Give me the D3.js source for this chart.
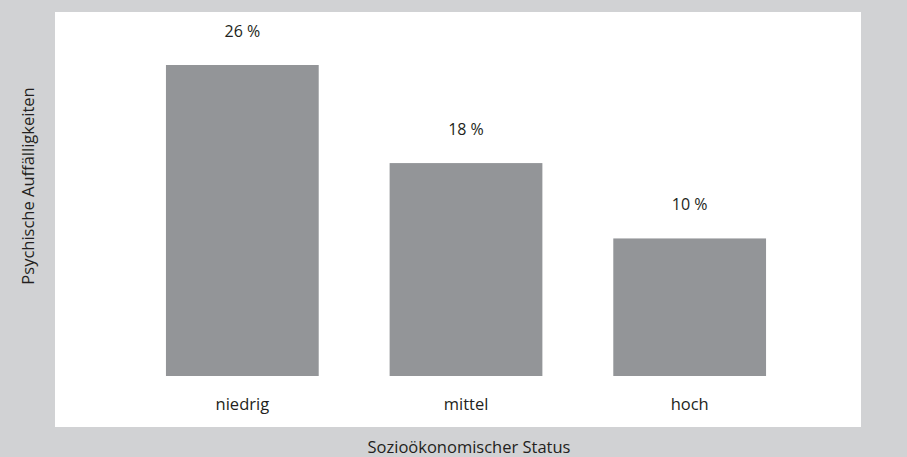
<!DOCTYPE html>
<html>
<head>
<meta charset="utf-8">
<script src="https://cdn.jsdelivr.net/npm/d3@7"></script>
<style>
  html, body { margin: 0; padding: 0; background: #d1d2d4; }
  svg { display: block; }
  text { font-family: "Open Sans", sans-serif; fill: #231f20; }
</style>
</head>
<body>
<svg id="chart" width="907" height="457"></svg>
<script>
// data
const categories = ["niedrig", "mittel", "hoch"];
const values = [26, 17.8, 11.5];          // bar heights as drawn
const valueLabels = ["26 %", "18 %", "10 %"];
const xTitle = "Sozioökonomischer Status";
const yTitle = "Psychische Auffälligkeiten";

const svg = d3.select("#chart");

// white panel
svg.append("rect")
  .attr("x", 55).attr("y", 12)
  .attr("width", 806).attr("height", 415)
  .attr("fill", "#ffffff");

const x = d3.scaleBand()
  .domain(categories)
  .range([130.5, 801.5])
  .paddingInner(0.317)
  .paddingOuter(0.1585);

const y = d3.scaleLinear()
  .domain([0, 26])
  .range([376, 65]);

const data = categories.map((c, i) => ({ cat: c, value: values[i], label: valueLabels[i] }));

const g = svg.append("g");

g.selectAll("rect.bar")
  .data(data)
  .enter()
  .append("rect")
  .attr("class", "bar")
  .attr("x", d => x(d.cat))
  .attr("y", d => y(d.value))
  .attr("width", x.bandwidth())
  .attr("height", d => y(0) - y(d.value))
  .attr("fill", "#939598");

g.selectAll("text.val")
  .data(data)
  .enter()
  .append("text")
  .attr("class", "val")
  .attr("x", d => x(d.cat) + x.bandwidth() / 2)
  .attr("y", d => y(d.value) - 28)
  .attr("text-anchor", "middle")
  .style("font-size", "16px")
  .text(d => d.label);

// category labels (axis without line/ticks)
const xAxis = d3.axisBottom(x).tickSize(0).tickPadding(0);
const ax = svg.append("g")
  .attr("transform", "translate(0,376)")
  .call(xAxis);
ax.select(".domain").remove();
ax.selectAll("text")
  .attr("y", 0)
  .attr("dy", 0)
  .attr("transform", "translate(0,33.5)")
  .style("font-family", "'Open Sans', sans-serif")
  .style("font-size", "16.5px")
  .style("fill", "#231f20");

svg.append("text")
  .attr("x", 469)
  .attr("y", 453)
  .attr("text-anchor", "middle")
  .style("font-size", "16.5px")
  .text(xTitle);

svg.append("text")
  .attr("transform", "translate(34,186) rotate(-90)")
  .attr("text-anchor", "middle")
  .style("font-size", "16.5px")
  .text(yTitle);
</script>
</body>
</html>
